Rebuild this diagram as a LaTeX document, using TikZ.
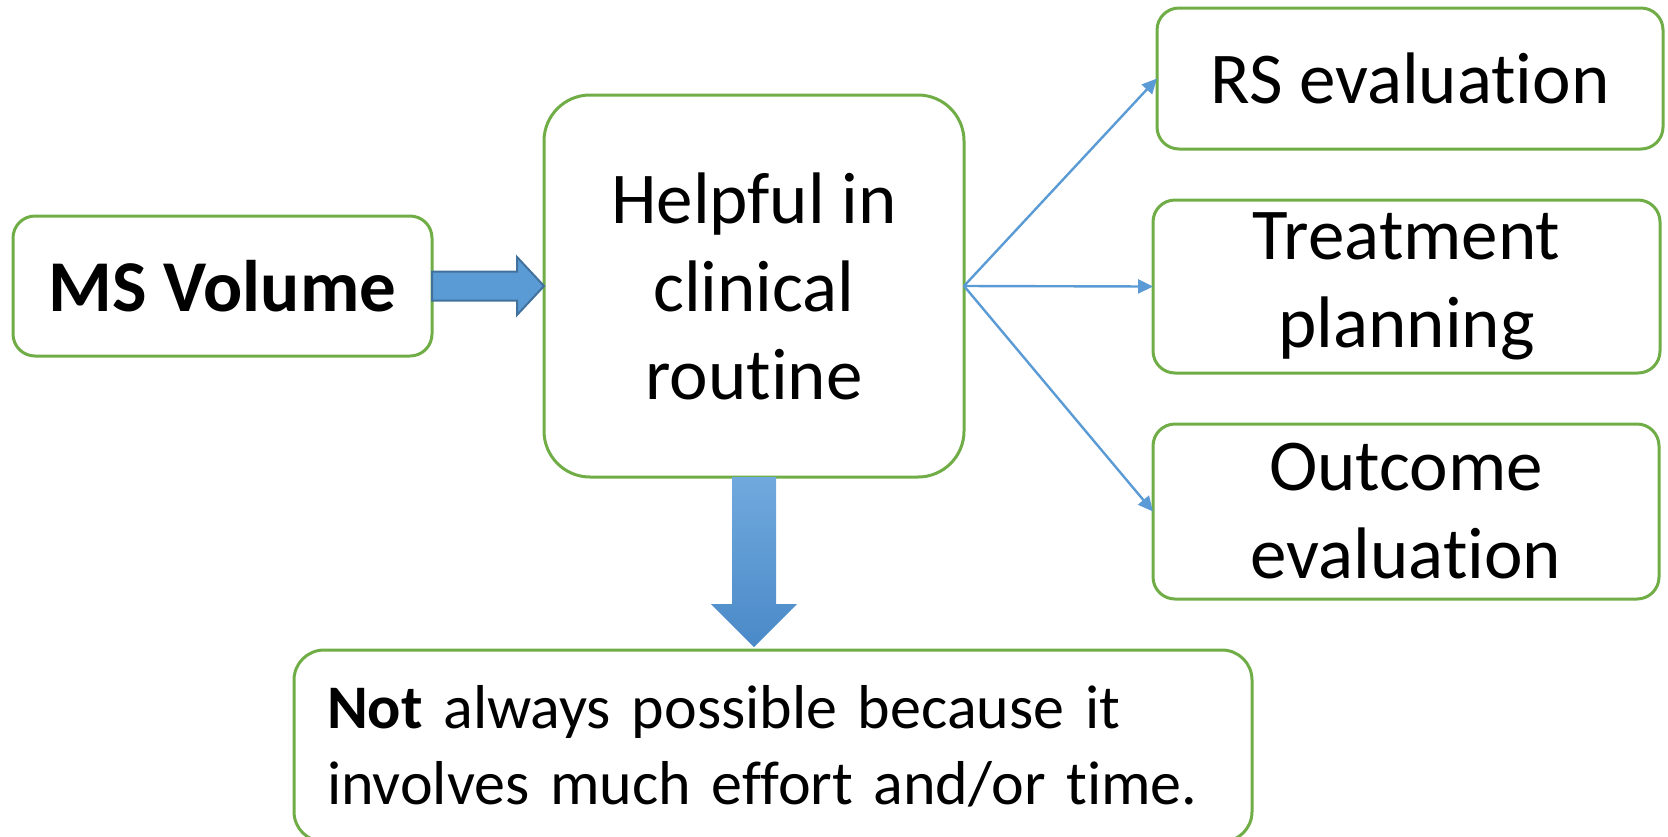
\documentclass[tikz,border=0pt]{standalone}
\usepackage{fontspec}
\setmainfont{Carlito}[Renderer=OpenType, RawFeature={-liga;-clig;-dlig;-calt;-ccmp;-rlig}]
\usetikzlibrary{arrows.meta,calc}

\definecolor{boxgreen}{HTML}{70AD47}
\definecolor{arrowblue}{HTML}{5B9BD5}
\definecolor{arrowedge}{HTML}{41719C}
\definecolor{shadetop}{HTML}{70A9DD}
\definecolor{shadebottom}{HTML}{4A89C8}

\newcommand{\boxfont}{\fontsize{36.5}{44}\selectfont}
\newcommand{\notefont}{\fontsize{31}{38}\selectfont}

\tikzset{
  box/.style={draw=boxgreen, line width=1.5pt, rounded corners=11pt, align=center,
    font=\boxfont, inner sep=0pt, outer sep=0pt},
  thinarrow/.style={draw=arrowblue, line width=1.2pt, -{Triangle[length=7.5pt,width=7pt]}},
  fatarrow/.style={fill=arrowblue, draw=arrowedge, line width=1pt, line join=miter},
  downarrow/.style={top color=shadetop, bottom color=shadebottom, draw=none}
}

\begin{document}
\begin{tikzpicture}[x=0.5pt, y=-0.5pt]
\useasboundingbox (0,0) rectangle (1668,836);

% Boxes
\node[box, minimum width=209.5pt, minimum height=70pt] (ms) at (222.5,286) {\textbf{MS Volume}};
\node[box, rounded corners=23pt, minimum width=210pt, minimum height=191pt] (help) at (754,286) {Helpful in\\clinical\\routine};
\node[box, minimum width=253pt, minimum height=70.5pt] (rs) at (1410,78.5) {RS evaluation};
\node[box, minimum width=253.5pt, minimum height=86.5pt] (plan) at (1406.5,286.5) {Treatment\\planning};
\node[box, minimum width=253pt, minimum height=87.5pt] (outcome) at (1406,511.5) {Outcome\\evaluation};
\node[box, font=\notefont, align=left, text width=446pt, inner xsep=16.5pt, inner ysep=17.5pt,
  rounded corners=15pt, anchor=north west] (note) at (294,650)
  {\textbf{Not} always possible because it\\involves much effort and/or time.};

% Block arrows
\path[fatarrow] ($(ms.east)+(0,-14.5)$) -- ($(help.west)+(-27,-14.5)$) -- ($(help.west)+(-27,-29)$)
  -- (help.west) -- ($(help.west)+(-27,29)$) -- ($(help.west)+(-27,14.5)$) -- ($(ms.east)+(0,14.5)$) -- cycle;
\coordinate (tip) at (help.south |- note.north);
\path[downarrow] ($(help.south)+(-22,0)$) -- ($(help.south)+(22,0)$) -- ($(tip)+(22,-46)$)
  -- ($(tip)+(43,-46)$) -- ($(tip)+(0,-3)$) -- ($(tip)+(-43,-46)$) -- ($(tip)+(-22,-46)$) -- cycle;

% Thin arrows
\draw[thinarrow] (help.east) -- (rs.west);
\draw[thinarrow] (help.east) -- (plan.west);
\draw[thinarrow] (help.east) -- (outcome.west);
\end{tikzpicture}
\end{document}
